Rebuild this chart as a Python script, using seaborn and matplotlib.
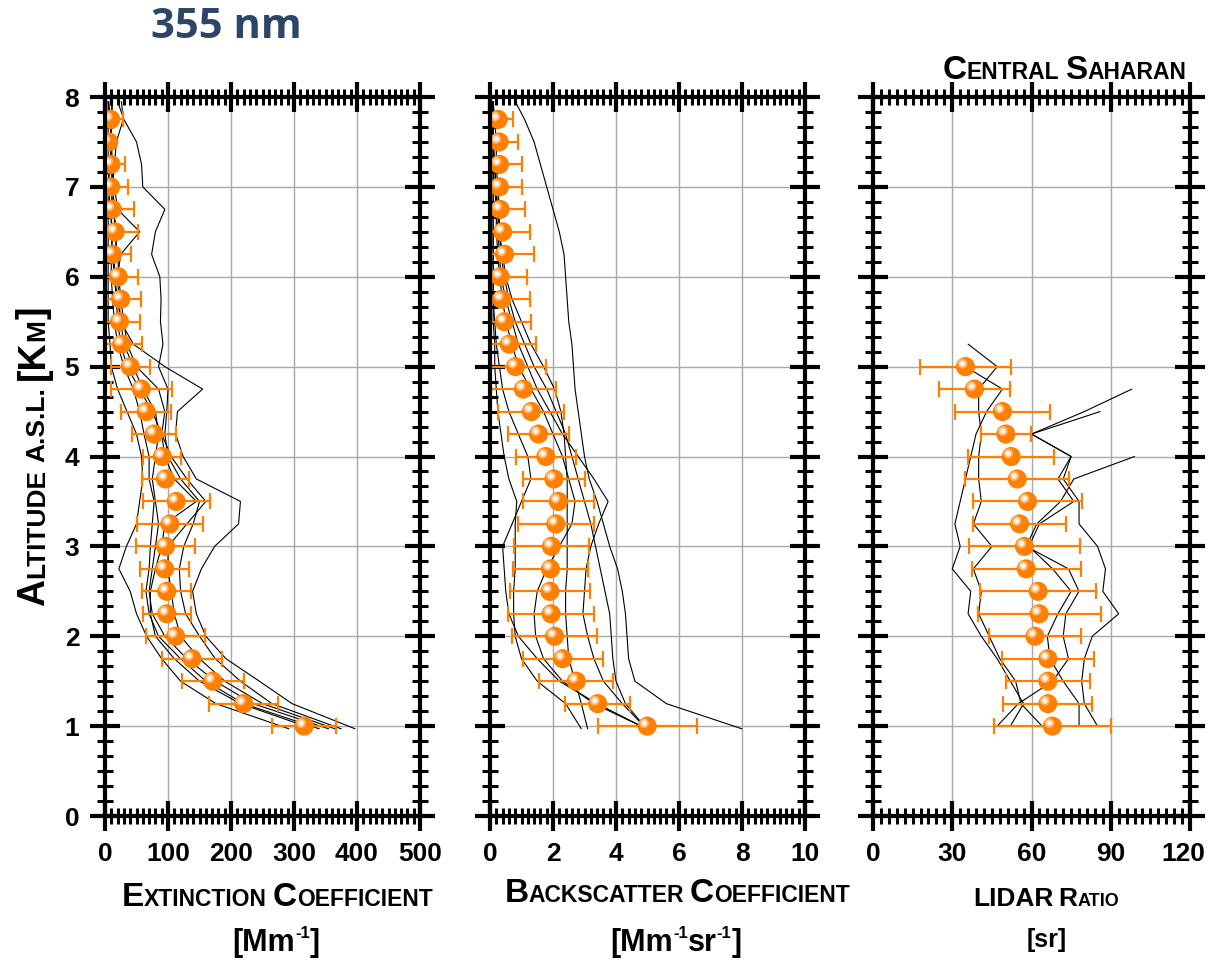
import numpy as np
import pandas as pd
import seaborn as sns
import matplotlib
matplotlib.use("Agg")
import matplotlib.pyplot as plt
import matplotlib.transforms as mtransforms
from matplotlib.ticker import MultipleLocator

# ---------- mean profiles (orange points) ----------
ALT = [1.0, 1.25, 1.5, 1.75, 2.0, 2.25, 2.5, 2.75, 3.0, 3.25, 3.5, 3.75, 4.0, 4.25,
       4.5, 4.75, 5.0, 5.25, 5.5, 5.75, 6.0, 6.25, 6.5, 6.75, 7.0, 7.25, 7.5, 7.75]

EXT = [316, 220, 171, 138, 112, 98, 98, 94.5, 96, 103, 113, 96, 91, 78,
       65.5, 57.7, 40, 26.5, 23, 25, 21, 12, 16, 11.5, 9, 9.5, 6, 9]
EXT_ERR = [51, 55, 49, 47.5, 47, 38, 39, 39.5, 47, 53, 53, 37, 30, 35,
           40, 48, 31, 32, 33, 32, 32, 30, 37, 34, 28, 22, 7, 19]

BSC = [4.99, 3.42, 2.74, 2.31, 2.05, 1.94, 1.9, 1.92, 1.95, 2.09, 2.17, 2.03, 1.77, 1.54,
       1.31, 1.06, 0.81, 0.61, 0.46, 0.37, 0.32, 0.46, 0.4, 0.32, 0.3, 0.3, 0.29, 0.26]
BSC_ERR = [1.57, 1.04, 1.17, 1.27, 1.34, 1.36, 1.27, 1.18, 1.2, 1.21, 1.13, 0.99, 0.95, 0.98,
           1.05, 1.03, 0.97, 0.85, 0.84, 0.9, 0.86, 0.94, 0.87, 0.8, 0.73, 0.7, 0.61, 0.48]

LR_ALT = [1.0, 1.25, 1.5, 1.75, 2.0, 2.25, 2.5, 2.75, 3.0, 3.25, 3.5, 3.75, 4.0, 4.25,
          4.5, 4.75, 5.0]
LR = [67.9, 66.2, 66.2, 66.2, 61.3, 62.9, 62.5, 58, 57.3, 55.5, 58.5, 54.6, 52.3, 50.3,
      49, 38.4, 35]
LR_ERR = [22.2, 16.8, 16, 17.4, 17.5, 23.3, 22, 20.7, 21, 17.6, 20.6, 19.7, 16.3, 9.4,
          18, 13.3, 17.3]

# ---------- single profiles (black lines) ----------
PROF_ALT = [0.97, 1.25, 1.5, 1.75, 2.0, 2.25, 2.5, 2.75, 3.0, 3.25, 3.5, 3.75, 4.0, 4.25, 4.5,
            4.75, 5.0, 5.25, 5.5, 5.75, 6.0, 6.25, 6.5, 6.75, 7.0, 7.25, 7.5, 7.75, 7.95]

EXT_L1 = [397, 297, 245, 192, 160, 145, 139, 153, 174, 212, 215, 145, 124, 112, 115,
          155, 95, 45, 25, 20, 15, 12, 10, 10, 12, 15, 18, 29, 26]
EXT_L2 = [375, 265, 215, 175, 150, 128, 120, 118, 125, 140, 150, 120, 100, 95, 98,
          100, 85, 92, 88, 89, 87, 74, 80, 95, 60, 58, 50, 30, 20]
EXT_L3 = [292, 176, 120, 90, 66, 50, 40, 22, 34, 50, 55, 60, 58, 50, 35,
          20, 10, 8, 5, 5, 5, 5, 5, 5, 5, 8, 10, 8, 5]
EXT_L4 = [365, 250, 190, 150, 120, 110, 105, 100, 100, 130, 160, 130, 105, 90, 75,
          55, 35, 25, 20, 18, 15, 15, 20, 12, 10, 12, 10, 8, 6]
EXT_L5 = [355, 235, 175, 130, 95, 75, 70, 75, 80, 85, 80, 75, 80, 85, 80,
          60, 45, 30, 25, 22, 20, 25, 55, 20, 15, 10, 8, 12, 10]
EXT_L6 = [340, 220, 160, 120, 85, 70, 65, 70, 72, 75, 78, 70, 70, 62, 55,
          45, 30, 20, 15, 12, 10, 10, 12, 8, 6, 5, 5, 5, 5]
EXT_L7 = [330, 215, 150, 110, 80, 72, 72, 80, 90, 95, 145, 110, 95, 90, 95,
          85, 50, 35, 30, 25, 22, 20, 15, 15, 12, 10, 8, 10, 12]

BSC_L1 = [8.0, 5.6, 4.6, 4.4, 4.35, 4.3, 4.2, 4.05, 3.8, 3.6, 3.4, 3.15, 3.0, 2.9, 2.8,
          2.7, 2.65, 2.6, 2.5, 2.45, 2.4, 2.35, 2.2, 2.0, 1.8, 1.6, 1.4, 1.1, 0.8]
BSC_L2 = [3.1, 2.9, 2.7, 2.5, 2.45, 2.4, 2.4, 2.45, 2.45, 2.45, 2.45, 2.45, 2.4, 2.35, 2.25,
          2.05, 1.7, 1.3, 1.0, 0.7, 0.5, 0.4, 0.3, 0.25, 0.2, 0.15, 0.1, 0.1, 0.1]
BSC_L3 = [4.97, 4.2, 3.6, 3.3, 3.1, 2.95, 3.0, 3.05, 3.2, 3.45, 3.75, 3.3, 2.8, 2.3, 1.9,
          1.5, 1.2, 0.9, 0.7, 0.5, 0.35, 0.3, 0.25, 0.2, 0.2, 0.15, 0.1, 0.1, 0.1]
BSC_L4 = [4.97, 3.4, 2.2, 1.5, 0.9, 0.6, 0.5, 0.45, 0.4, 0.7, 1.0, 1.3, 1.2, 0.9, 0.6,
          0.4, 0.3, 0.2, 0.15, 0.1, 0.1, 0.1, 0.1, 0.1, 0.1, 0.1, 0.1, 0.1, 0.1]
BSC_L5 = [2.9, 2.4, 1.5, 1.0, 0.8, 0.75, 0.75, 0.8, 0.8, 0.8, 0.85, 0.6, 0.45, 0.35, 0.25,
          0.2, 0.15, 0.15, 0.1, 0.1, 0.1, 0.1, 0.1, 0.1, 0.1, 0.1, 0.1, 0.1, 0.1]
BSC_L6 = [4.97, 3.3, 2.3, 1.7, 1.45, 1.4, 1.5, 1.8, 2.2, 2.6, 2.7, 2.5, 2.3, 2.0, 1.7,
          1.3, 0.9, 0.7, 0.5, 0.4, 0.3, 0.25, 0.2, 0.2, 0.15, 0.1, 0.1, 0.1, 0.1]
BSC_L7 = [4.97, 4.3, 4.0, 3.9, 3.85, 3.8, 3.65, 3.5, 3.35, 3.2, 3.0, 2.8, 2.6, 2.4, 2.1,
          1.8, 1.4, 1.1, 0.8, 0.6, 0.45, 0.35, 0.3, 0.3, 0.25, 0.2, 0.2, 0.15, 0.1]

LR_PROF_ALT = [1.0, 1.25, 1.5, 1.75, 2.0, 2.25, 2.5, 2.75, 3.0, 3.25, 3.5, 3.75, 4.0,
               4.25, 4.5, 4.75, 5.0, 5.25]
LR_L1 = [85, 80, 79, 80, 83, 93, 87, 88, 85, 78, 78, 72, 75, 60, 80, 98, np.nan, np.nan]
LR_L2 = [78, 78, 72, 67, 66, 70, 75, 68, 59, 63, 76, 70, 75, 60, 86, np.nan, np.nan, np.nan]
LR_L3 = [47, 55, 68, 74, 72, 73, 78, 74, 58, 62, 71, 76, 99, np.nan, np.nan, np.nan, np.nan, np.nan]
LR_L4 = [64, 56, 54, 48, 44, 40, 41, 38, 45, 38, 41, 40, 40, 41, 40, 40, 47, 36]
LR_L5 = [52, 57, 52, 47, 41, 36, 37, 30, 33, 31, 33, 35, 37, 39, 43, 49, 35, np.nan]

ORANGE = "#ff8000"
W, H = 1209, 961


def profiles_frame(alt, lines):
    rows = []
    for i, vals in enumerate(lines):
        for a, v in zip(alt, vals):
            if not np.isnan(v):
                rows.append({"alt": a, "value": v, "line": i})
    return pd.DataFrame(rows)


def spheres(ax, x, y, err):
    ax.errorbar(x, y, xerr=err, fmt="none", ecolor=ORANGE, elinewidth=1.6,
                capsize=5.5, capthick=1.6, zorder=3)
    sns.scatterplot(x=x, y=y, ax=ax, s=190, color=ORANGE, edgecolor="none",
                    zorder=4, legend=False)
    hl = mtransforms.offset_copy(ax.transData, fig=ax.figure, x=-3, y=3, units="dots")
    ax.scatter(x, y, s=50, color="#ffb266", edgecolor="none", transform=hl, zorder=5)
    ax.scatter(x, y, s=20, color="#ffe4c8", edgecolor="none", transform=hl, zorder=6)
    ax.scatter(x, y, s=6, color="white", edgecolor="none", transform=hl, zorder=7)


def caps(fig, xc, yc, parts, rot=0):
    # small-caps style text, built from pieces of different sizes (pixel coords)
    r = fig.canvas.get_renderer()
    items = []
    total = 0
    for s, size, dy in parts:
        if s is None:
            items.append((None, size, 0))
            total += size
            continue
        t = fig.text(0, 0, s, fontsize=size, fontweight="bold", rotation=rot,
                     rotation_mode="anchor", ha="left", va="baseline", color="black",
                     transform=mtransforms.IdentityTransform())
        bb = t.get_window_extent(renderer=r)
        w = bb.height if rot else bb.width
        items.append((t, w, dy))
        total += w
    pos = (yc if rot else xc) - total / 2
    for t, w, dy in items:
        if t is not None:
            if rot:
                t.set_position((xc - dy, pos))
            else:
                t.set_position((pos, yc + dy))
        pos += w


sns.set_style("white")
plt.rcParams["font.family"] = ["Liberation Sans", "DejaVu Sans"]
plt.rcParams["font.weight"] = "bold"
plt.rcParams["text.color"] = "black"
plt.rcParams["xtick.labelcolor"] = "black"
plt.rcParams["ytick.labelcolor"] = "black"

fig = plt.figure(figsize=(W / 100, H / 100), dpi=100)

lefts = [105, 490, 873]
widths = [315, 315, 317]
xlims = [(0, 500), (0, 10), (0, 120)]
majors = [100, 2, 30]
minors = [10, 0.2, 3]

axes = []
for k in range(3):
    ax = fig.add_axes([lefts[k] / W, (H - 816) / H, widths[k] / W, 719 / H])
    axes.append(ax)
    ax.set_xlim(*xlims[k])
    ax.set_ylim(0, 8)
    ax.xaxis.set_major_locator(MultipleLocator(majors[k]))
    ax.xaxis.set_minor_locator(MultipleLocator(minors[k]))
    ax.yaxis.set_major_locator(MultipleLocator(1))
    ax.yaxis.set_minor_locator(MultipleLocator(1 / 6))
    ax.grid(True, which="major", color="#a8a8a8", lw=1.0, zorder=0)
    ax.set_axisbelow(True)
    for sp in ax.spines.values():
        sp.set_linewidth(3)
        sp.set_color("black")
        sp.set_zorder(8)
    ax.tick_params(which="both", direction="inout", top=True, right=True,
                   bottom=True, left=True, labeltop=False, labelright=False,
                   labelsize=19, pad=8, color="black", labelcolor="black")
    ax.tick_params(which="major", length=21, width=3)
    ax.tick_params(which="minor", length=12, width=2.2)
    if k > 0:
        ax.tick_params(labelleft=False)

ext_df = profiles_frame(PROF_ALT, [EXT_L1, EXT_L2, EXT_L3, EXT_L4, EXT_L5, EXT_L6, EXT_L7])
bsc_df = profiles_frame(PROF_ALT, [BSC_L1, BSC_L2, BSC_L3, BSC_L4, BSC_L5, BSC_L6, BSC_L7])
lr_df = profiles_frame(LR_PROF_ALT, [LR_L1, LR_L2, LR_L3, LR_L4, LR_L5])

for ax, df in zip(axes, [ext_df, bsc_df, lr_df]):
    sns.lineplot(data=df, x="value", y="alt", units="line", estimator=None,
                 orient="y", sort=False, color="black", linewidth=0.8,
                 ax=ax, legend=False, zorder=2)

spheres(axes[0], EXT, ALT, EXT_ERR)
spheres(axes[1], BSC, ALT, BSC_ERR)
spheres(axes[2], LR, LR_ALT, LR_ERR)
for ax in axes:
    ax.set_xlabel("")
    ax.set_ylabel("")

# keep the last "120" label inside the figure
axes[2].set_xticks([0, 30, 60, 90, 120])
last = axes[2].get_xticklabels()[-1]
last.set_transform(last.get_transform() +
                   mtransforms.ScaledTranslation(-5 / 72, 0, fig.dpi_scale_trans))

# ---------- texts ----------
fig.text(226 / W, 1 - 27 / H, "355 nm", fontsize=30, fontweight="bold",
         color="#2c4668", ha="center", va="center", family=["Open Sans", "DejaVu Sans"])

caps(fig, 1064, H - 79, [("C", 24, 0), ("ENTRAL", 16.5, 0), (None, 6, 0),
                          ("S", 24, 0), ("AHARAN", 16.5, 0)])

caps(fig, 277, H - 906, [("E", 24, 0), ("XTINCTION", 16.5, 0), (None, 6, 0),
                          ("C", 24, 0), ("OEFFICIENT", 16.5, 0)])
caps(fig, 276, H - 951, [("[Mm", 22, 0), ("-1", 12, 13), ("]", 22, 0)])

caps(fig, 677, H - 902, [("B", 24, 0), ("ACKSCATTER", 16.5, 0), (None, 6, 0),
                          ("C", 24, 0), ("OEFFICIENT", 16.5, 0)])
caps(fig, 676, H - 951, [("[Mm", 22, 0), ("-1", 12, 13), ("sr", 22, 0),
                          ("-1", 12, 13), ("]", 22, 0)])

caps(fig, 1046, H - 906, [("LIDAR", 19, 0), (None, 5, 0), ("R", 19, 0), ("ATIO", 13, 0)])
caps(fig, 1047, H - 947, [("[sr]", 18, 0)])

caps(fig, 44, H - 456, [("A", 27, 0), ("LTITUDE", 19, 0), (None, 7, 0),
                         ("A.S.L.", 19, 0), (None, 7, 0), ("[K", 27, 0),
                         ("M", 19, 0), ("]", 27, 0)], rot=90)

fig.savefig("out.png", dpi=100)
